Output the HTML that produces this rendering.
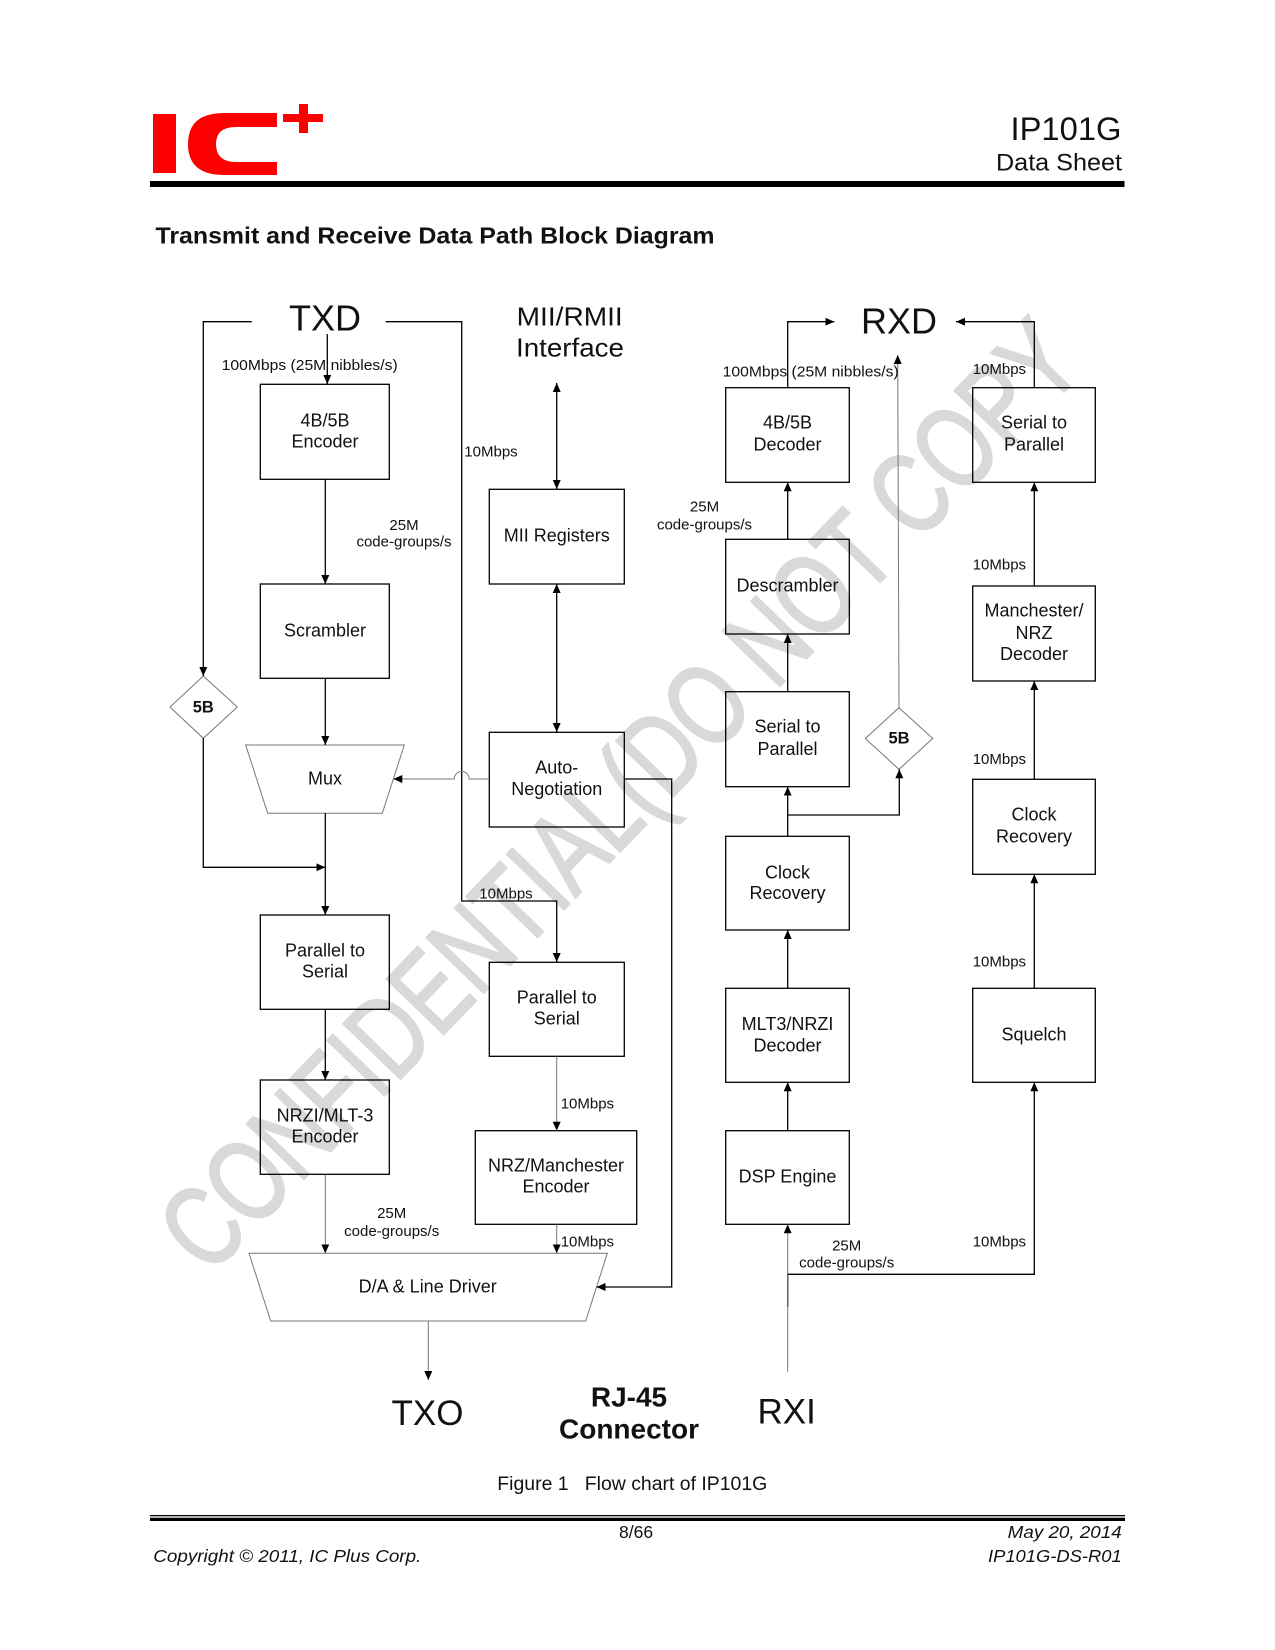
<!DOCTYPE html>
<html>
<head>
<meta charset="utf-8">
<style>
  html,body{margin:0;padding:0;background:#fff;}
  svg{display:block;}
  text{font-family:"Liberation Sans",Arial,sans-serif;fill:#111;}
</style>
</head>
<body>
<svg width="1275" height="1650" viewBox="0 0 1275 1650" xmlns="http://www.w3.org/2000/svg">
  <defs>
    <marker id="ar" viewBox="0 0 10 10" refX="10" refY="5" markerWidth="9" markerHeight="8" markerUnits="userSpaceOnUse" orient="auto-start-reverse" preserveAspectRatio="none">
      <path d="M0,0 L10,5 L0,10 z" fill="#000"/>
    </marker>
  </defs>
  <rect x="0" y="0" width="1275" height="1650" fill="#fff"/>

  <!-- Watermark -->
  <g transform="translate(209,1277) rotate(-46) scale(0.75,1)">
    <text x="0" y="0" font-size="115" style="fill:#d9d9d9;stroke:#d9d9d9;stroke-width:2.5">CONFIDENTIAL(DO NOT COPY</text>
  </g>

  <!-- Header logo -->
  <rect x="153" y="114" width="23" height="59" fill="#ff0000"/>
  <path d="M277,113 L224,113 Q188,113 188,144 Q188,175 224,175 L277,175 L277,162 L236,162 Q216,162 216,144 Q216,127 236,127 L277,127 Z" fill="#ff0000"/>
  <rect x="283" y="114" width="40" height="8" fill="#ff0000"/>
  <rect x="299" y="104" width="9" height="29" fill="#ff0000"/>

  <text x="1010.5" y="140" font-size="32" textLength="111" lengthAdjust="spacingAndGlyphs">IP101G</text>
  <text x="996" y="170.7" font-size="24" textLength="126" lengthAdjust="spacingAndGlyphs">Data Sheet</text>
  <rect x="150" y="181" width="974.5" height="6" fill="#000"/>

  <text x="155.5" y="243.3" font-size="23" font-weight="bold" textLength="559" lengthAdjust="spacingAndGlyphs">Transmit and Receive Data Path Block Diagram</text>

  <!-- Big labels -->
  <text x="325" y="330.7" font-size="36" text-anchor="middle">TXD</text>
  <text x="516.7" y="325.7" font-size="26" textLength="106" lengthAdjust="spacingAndGlyphs">MII/RMII</text>
  <text x="516" y="356.7" font-size="26" textLength="108" lengthAdjust="spacingAndGlyphs">Interface</text>
  <text x="899" y="333.3" font-size="36" text-anchor="middle">RXD</text>
  <text x="427.5" y="1425" font-size="35" text-anchor="middle">TXO</text>
  <text x="786.7" y="1423.3" font-size="35" text-anchor="middle">RXI</text>
  <text x="629" y="1406.7" font-size="28" font-weight="bold" text-anchor="middle">RJ-45</text>
  <text x="629" y="1438.3" font-size="28" font-weight="bold" text-anchor="middle">Connector</text>

  <!-- Boxes -->
  <g fill="none" stroke="#000" stroke-width="1.3">
    <rect x="260.3" y="384.3" width="129" height="95"/>
    <rect x="260.3" y="584" width="129" height="94.3"/>
    <rect x="260.3" y="915" width="129" height="94.3"/>
    <rect x="260.3" y="1080" width="129" height="94.3"/>
    <rect x="489.3" y="489.3" width="135" height="94.7"/>
    <rect x="489.3" y="732.3" width="135" height="94.7"/>
    <rect x="489.3" y="962.3" width="135" height="94"/>
    <rect x="475.3" y="1130.7" width="161.4" height="93.6"/>
    <rect x="725.7" y="387.7" width="123.6" height="94.6"/>
    <rect x="725.7" y="539.3" width="123.6" height="94.7"/>
    <rect x="725.7" y="691.7" width="123.6" height="95"/>
    <rect x="725.7" y="836.3" width="123.6" height="93.7"/>
    <rect x="725.7" y="988.3" width="123.6" height="94"/>
    <rect x="725.7" y="1130.7" width="123.6" height="93.6"/>
    <rect x="972.7" y="387.7" width="122.6" height="94.6"/>
    <rect x="972.7" y="586" width="122.6" height="95"/>
    <rect x="972.7" y="779.3" width="122.6" height="95"/>
    <rect x="972.7" y="988.3" width="122.6" height="94"/>
  </g>

  <!-- Trapezoids and diamonds (gray) -->
  <g fill="none" stroke="#777" stroke-width="1">
    <polygon points="245.7,745 404.3,745 382.3,813.3 267.7,813.3"/>
    <polygon points="249,1253.3 607.3,1253.3 585.7,1321 270.7,1321"/>
    <polygon points="203.3,676 237.3,707 203.3,738.3 170,707"/>
    <polygon points="899,707.7 932.7,738.5 899,769.3 865.3,738.5"/>
  </g>

  <!-- Black connectors -->
  <g fill="none" stroke="#000" stroke-width="1.3">
    <path d="M251.7,321.7 H203.3 V676" marker-end="url(#ar)"/>
    <path d="M385.7,321.7 H461.7 V901 H556.7 V962" marker-end="url(#ar)"/>
    <path d="M327.3,334 V384" marker-end="url(#ar)"/>
    <path d="M325.3,479 V584" marker-end="url(#ar)"/>
    <path d="M325.3,678 V745" marker-end="url(#ar)"/>
    <path d="M325.3,813 V915" marker-end="url(#ar)"/>
    <path d="M203.3,738.3 V867.3 H325.3" marker-end="url(#ar)"/>
    <path d="M325.3,1009 V1080" marker-end="url(#ar)"/>
    <path d="M556.7,383 V489" marker-start="url(#ar)" marker-end="url(#ar)"/>
    <path d="M556.7,584 V732" marker-start="url(#ar)" marker-end="url(#ar)"/>
    <path d="M624.3,779 H671.7 V1287 H596.5" marker-end="url(#ar)"/>

    <path d="M787.7,387.7 V321.7 H834.3" marker-end="url(#ar)"/>
    <path d="M1034.3,387.7 V321.7 H956" marker-end="url(#ar)"/>
    <path d="M787.7,539.3 V482.3" marker-end="url(#ar)"/>
    <path d="M787.7,691.7 V634" marker-end="url(#ar)"/>
    <path d="M787.7,836.3 V786.7" marker-end="url(#ar)"/>
    <path d="M787.7,815 H899.3 V769.3" marker-end="url(#ar)"/>
    <path d="M787.7,988.3 V930" marker-end="url(#ar)"/>
    <path d="M787.7,1130.7 V1082.3" marker-end="url(#ar)"/>
    <path d="M787.7,1307 V1274.3 H1034.3 V1082.3" marker-end="url(#ar)"/>
    <path d="M1034.3,586 V482.3" marker-end="url(#ar)"/>
    <path d="M1034.3,779.3 V681" marker-end="url(#ar)"/>
    <path d="M1034.3,988.3 V874.3" marker-end="url(#ar)"/>
  </g>

  <!-- Gray connectors -->
  <g fill="none" stroke="#777" stroke-width="1">
    <path d="M489.3,779 H469.2 A7.5,7.5 0 0 0 454.2,779 H393.3" marker-end="url(#ar)"/>
    <path d="M325.3,1174.3 V1253.3" marker-end="url(#ar)"/>
    <path d="M428.3,1321 V1380" marker-end="url(#ar)"/>
    <path d="M556.7,1056.3 V1130.7" marker-end="url(#ar)"/>
    <path d="M556.7,1224.3 V1253.3" marker-end="url(#ar)"/>
    <path d="M899,707.7 L897.7,355" marker-end="url(#ar)"/>
    <path d="M787.7,1371.7 V1224.3" marker-end="url(#ar)"/>
  </g>

  <!-- Box text -->
  <g font-size="18" text-anchor="middle">
    <text x="325" y="426.7">4B/5B</text>
    <text x="325" y="447.7">Encoder</text>
    <text x="325" y="636.5">Scrambler</text>
    <text x="325" y="784.3">Mux</text>
    <text x="325" y="956.7">Parallel to</text>
    <text x="325" y="977.7">Serial</text>
    <text x="325" y="1121.7">NRZI/MLT-3</text>
    <text x="325" y="1142.7">Encoder</text>
    <text x="427.7" y="1292.3">D/A &amp; Line Driver</text>

    <text x="556.8" y="541.7">MII Registers</text>
    <text x="556.8" y="773.3">Auto-</text>
    <text x="556.8" y="795">Negotiation</text>
    <text x="556.8" y="1003.3">Parallel to</text>
    <text x="556.8" y="1024.3">Serial</text>
    <text x="556" y="1171.7">NRZ/Manchester</text>
    <text x="556" y="1192.7">Encoder</text>

    <text x="787.5" y="428.3">4B/5B</text>
    <text x="787.5" y="450.7">Decoder</text>
    <text x="787.5" y="591.7">Descrambler</text>
    <text x="787.5" y="732.7">Serial to</text>
    <text x="787.5" y="755">Parallel</text>
    <text x="787.5" y="878.3">Clock</text>
    <text x="787.5" y="899">Recovery</text>
    <text x="787.5" y="1030">MLT3/NRZI</text>
    <text x="787.5" y="1051.7">Decoder</text>
    <text x="787.5" y="1182.3">DSP Engine</text>

    <text x="1034" y="428.3">Serial to</text>
    <text x="1034" y="450.7">Parallel</text>
    <text x="1034" y="616.7">Manchester/</text>
    <text x="1034" y="639">NRZ</text>
    <text x="1034" y="660">Decoder</text>
    <text x="1034" y="820.7">Clock</text>
    <text x="1034" y="842.3">Recovery</text>
    <text x="1034" y="1040.7">Squelch</text>
  </g>

  <text x="203.3" y="712.5" font-size="16.5" font-weight="bold" text-anchor="middle">5B</text>
  <text x="899" y="743.5" font-size="16.5" font-weight="bold" text-anchor="middle">5B</text>

  <!-- Small labels -->
  <g font-size="15">
    <text x="221.7" y="370" textLength="176" lengthAdjust="spacingAndGlyphs">100Mbps (25M nibbles/s)</text>
    <text x="404" y="530" text-anchor="middle">25M</text>
    <text x="404" y="546.7" text-anchor="middle">code-groups/s</text>
    <text x="464.3" y="456.7">10Mbps</text>
    <text x="479.3" y="898.3">10Mbps</text>
    <text x="391.7" y="1218" text-anchor="middle">25M</text>
    <text x="391.7" y="1236" text-anchor="middle">code-groups/s</text>
    <text x="560.7" y="1108.3">10Mbps</text>
    <text x="560.7" y="1246.7">10Mbps</text>

    <text x="722.7" y="376.7" textLength="176" lengthAdjust="spacingAndGlyphs">100Mbps (25M nibbles/s)</text>
    <text x="704.5" y="511.7" text-anchor="middle">25M</text>
    <text x="704.5" y="529.3" text-anchor="middle">code-groups/s</text>
    <text x="972.7" y="374">10Mbps</text>
    <text x="972.7" y="569.3">10Mbps</text>
    <text x="972.7" y="764">10Mbps</text>
    <text x="972.7" y="966.7">10Mbps</text>
    <text x="972.7" y="1246.7">10Mbps</text>
    <text x="846.7" y="1250.7" text-anchor="middle">25M</text>
    <text x="846.7" y="1267.3" text-anchor="middle">code-groups/s</text>
  </g>

  <!-- Caption and footer -->
  <text x="497.3" y="1490" font-size="19" textLength="270" lengthAdjust="spacingAndGlyphs">Figure 1&#160;&#160;&#160;Flow chart of IP101G</text>
  <rect x="150" y="1515" width="975" height="1.3" fill="#000"/>
  <rect x="150" y="1517.7" width="975" height="3.3" fill="#000"/>
  <text x="619" y="1538" font-size="17.5">8/66</text>
  <text x="153.3" y="1562" font-size="17.5" font-style="italic" textLength="268" lengthAdjust="spacingAndGlyphs">Copyright © 2011, IC Plus Corp.</text>
  <text x="1007.7" y="1538" font-size="17.5" font-style="italic" textLength="114" lengthAdjust="spacingAndGlyphs">May 20, 2014</text>
  <text x="988" y="1562" font-size="17.5" font-style="italic" textLength="133.7" lengthAdjust="spacingAndGlyphs">IP101G-DS-R01</text>
</svg>
</body>
</html>
